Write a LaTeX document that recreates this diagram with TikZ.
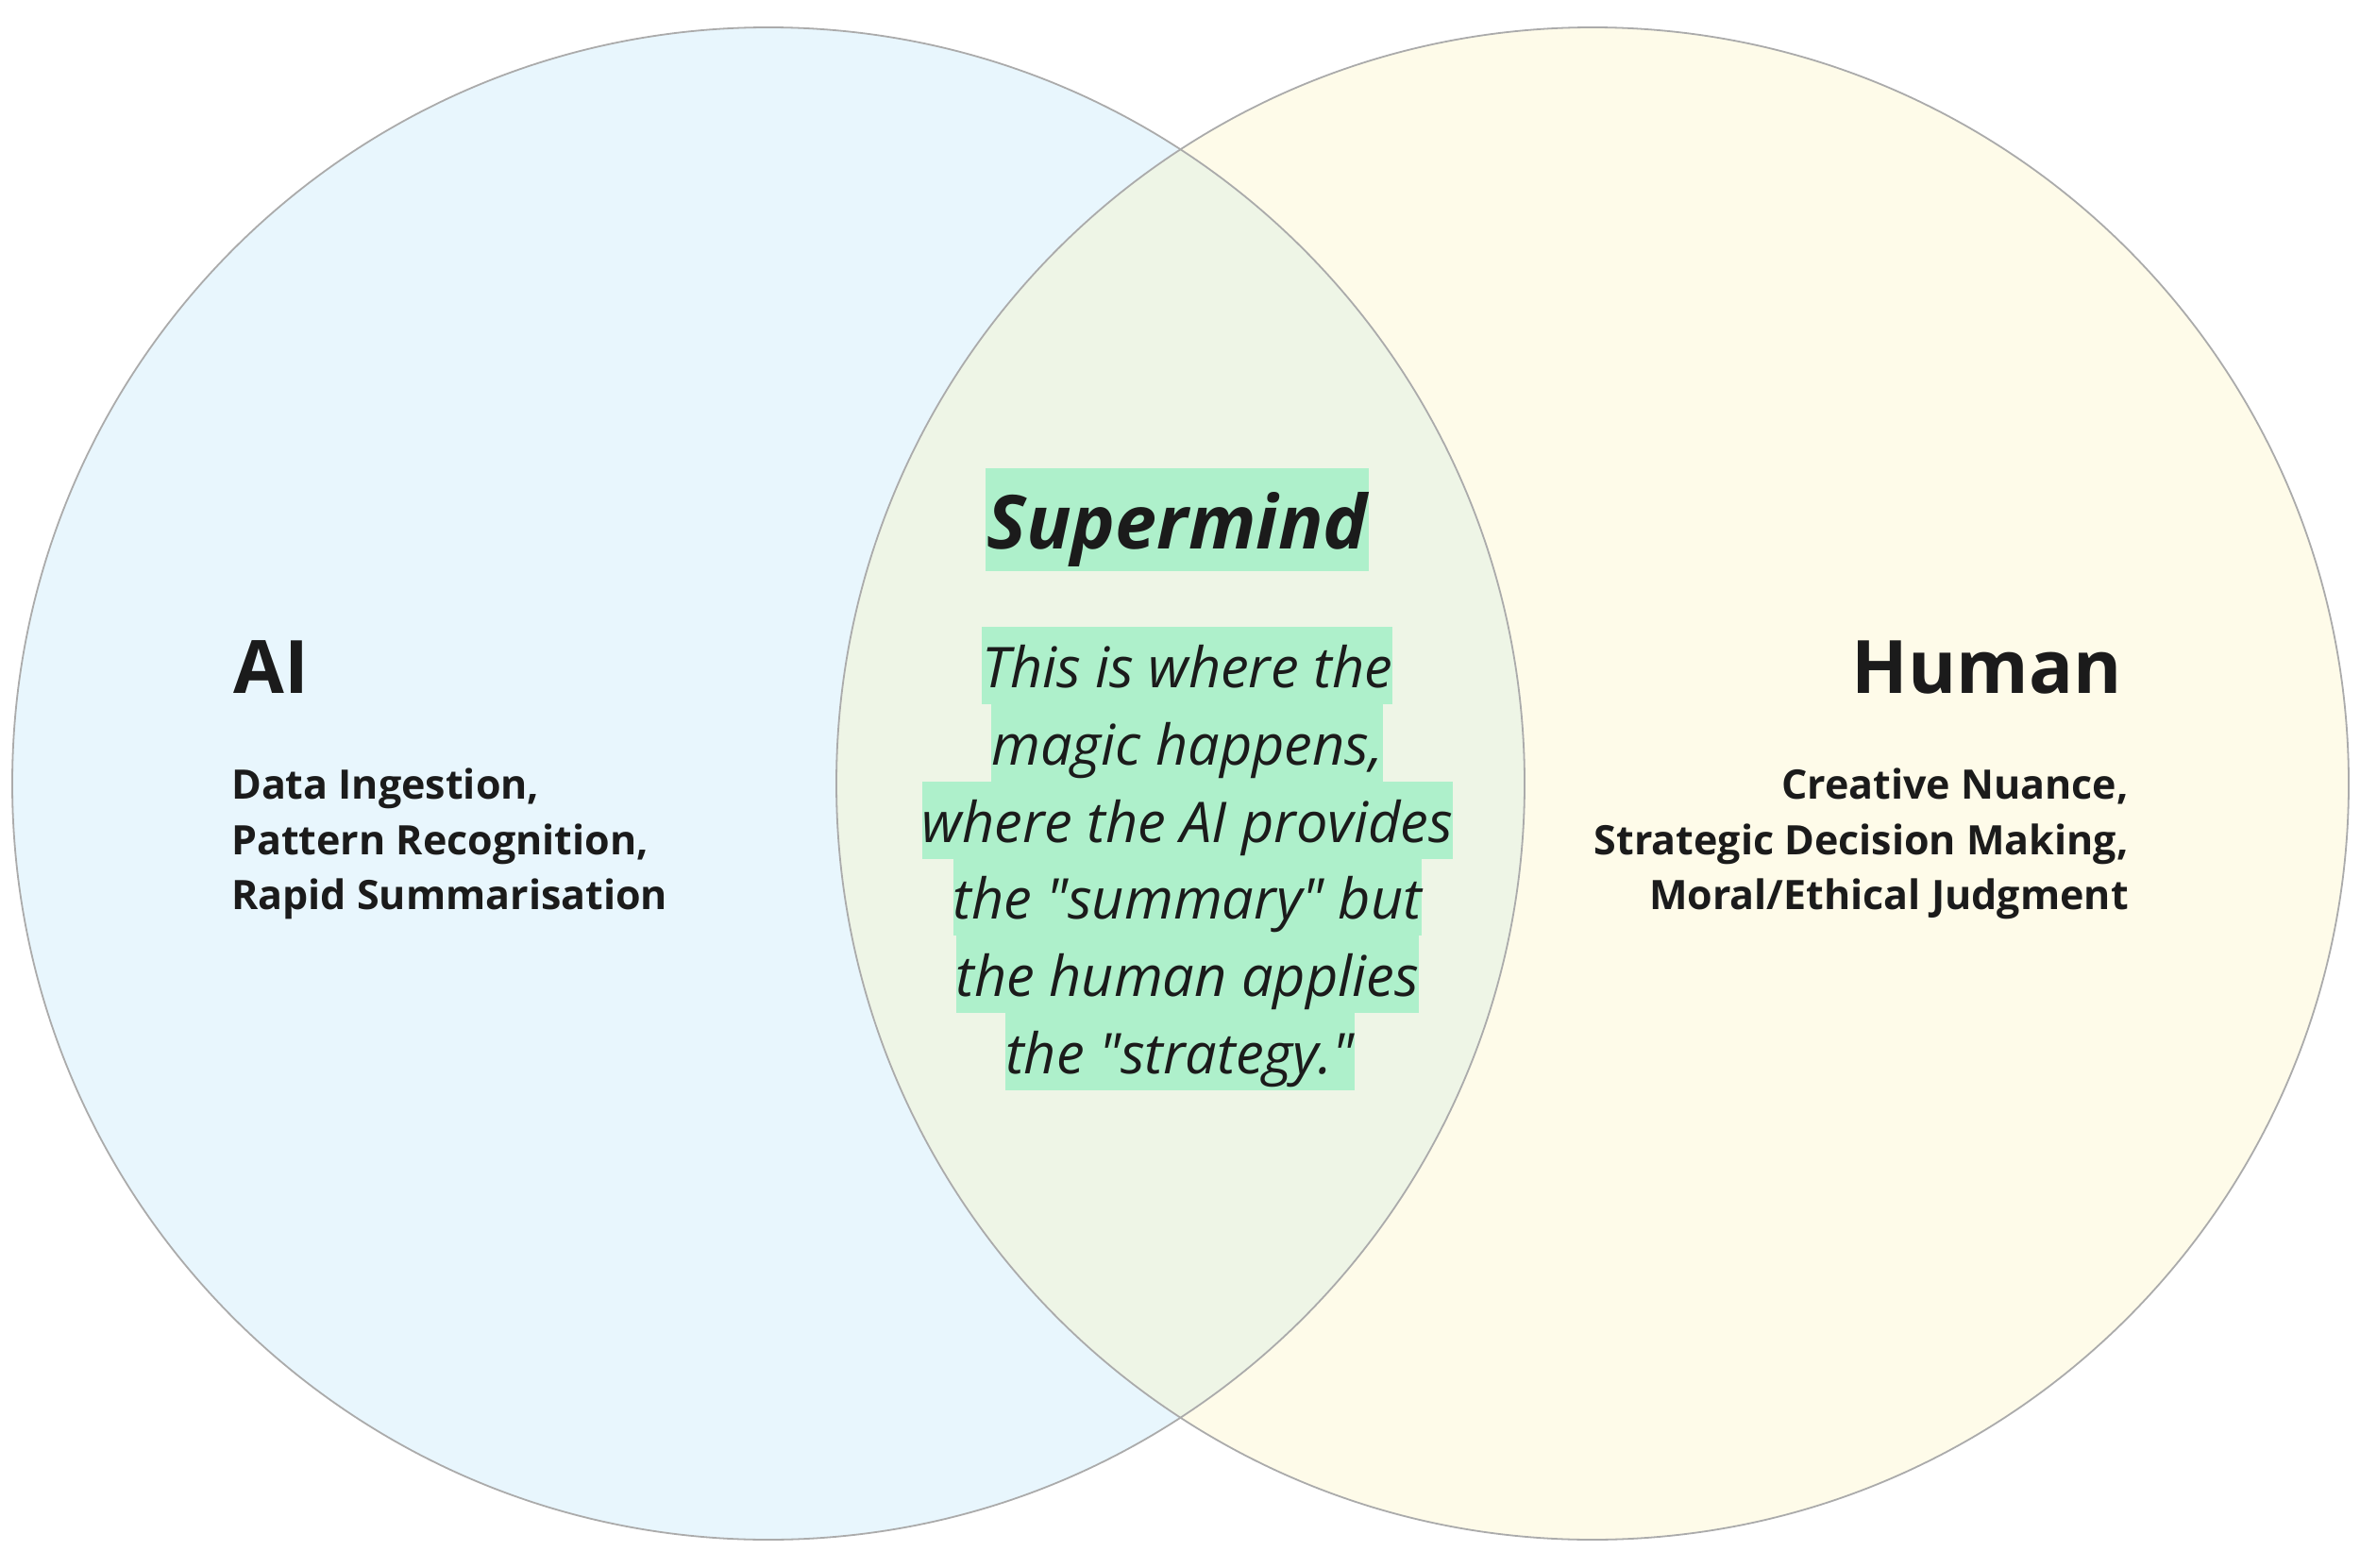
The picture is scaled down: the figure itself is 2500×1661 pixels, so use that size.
\documentclass[tikz,border=0pt]{standalone}
\usepackage{fontspec}
\setmainfont{Open Sans}
\definecolor{aiblue}{HTML}{E8F6FD}
\definecolor{humyellow}{HTML}{FEFBE9}
\definecolor{overlapc}{HTML}{EEF5E6}
\definecolor{edgegray}{HTML}{ABABAB}
\definecolor{hlgreen}{HTML}{AEF0CB}
\definecolor{ink}{HTML}{1B1B1B}
\begin{document}
\begin{tikzpicture}[x=1pt,y=-1pt,
  circ/.style={draw=edgegray, line width=1.8pt},
  titletext/.style={font=\fontsize{78}{94}\selectfont\bfseries, text=ink, inner sep=0},
  itemtext/.style={font=\fontsize{43}{59}\selectfont\bfseries, text=ink, inner sep=0},
  hlline/.style={fill=hlgreen, text=ink, inner sep=0, font=\fontsize{59.5}{82}\selectfont\itshape, text height=64.1pt, text depth=17.6pt},
  hltitle/.style={fill=hlgreen, text=ink, inner ysep=0, inner xsep=1pt, font=\fontsize{79}{109}\selectfont\bfseries\itshape, text height=85.5pt, text depth=23.4pt},
  ]
\useasboundingbox (0,0) rectangle (2500,1661);
\fill[white] (0,0) rectangle (2500,1661);
% circles
\coordinate (cA) at (814,830);
\coordinate (cH) at (1687,830);
\fill[aiblue] (cA) circle[radius=801];
\fill[humyellow] (cH) circle[radius=801];
\begin{scope}
  \clip (cA) circle[radius=801];
  \fill[overlapc] (cH) circle[radius=801];
\end{scope}
\draw[circ] (cA) circle[radius=801];
\draw[circ] (cH) circle[radius=801];
% AI side
\node[titletext, anchor=base west] (ai) at (247,734) {AI};
\node[itemtext, anchor=base west] (ai1) at (245,846) {Data Ingestion,};
\node[itemtext, anchor=base west] (ai2) at (245,905) {Pattern Recognition,};
\node[itemtext, anchor=base west] (ai3) at (245,963) {Rapid Summarisation};
% Human side
\node[titletext, anchor=base east] (hu) at (2248,734) {Human};
\node[itemtext, anchor=base east] (hu1) at (2255,846) {Creative Nuance,};
\node[itemtext, anchor=base east] (hu2) at (2255,905) {Strategic Decision Making,};
\node[itemtext, anchor=base east] (hu3) at (2255,963) {Moral/Ethical Judgment};
% centre
\node[hltitle, anchor=base] (sm) at (1247,581.5) {Supermind};
\node[hlline, anchor=base] (l1) at (1257.8,728) {This is where the\ };
\node[hlline, anchor=base] (l2) at (1257.8,810) {magic happens,\ };
\node[hlline, anchor=base] (l3) at (1257.8,892) {where the AI provides\ };
\node[hlline, anchor=base] (l4) at (1257.8,973) {the \textquotedbl summary\textquotedbl{} but\ };
\node[hlline, anchor=base] (l5) at (1257.8,1055) {the human applies\ };
\node[hlline, anchor=base] (l6) at (1250,1137) {the \textquotedbl strategy.\textquotedbl};
\end{tikzpicture}
\end{document}
